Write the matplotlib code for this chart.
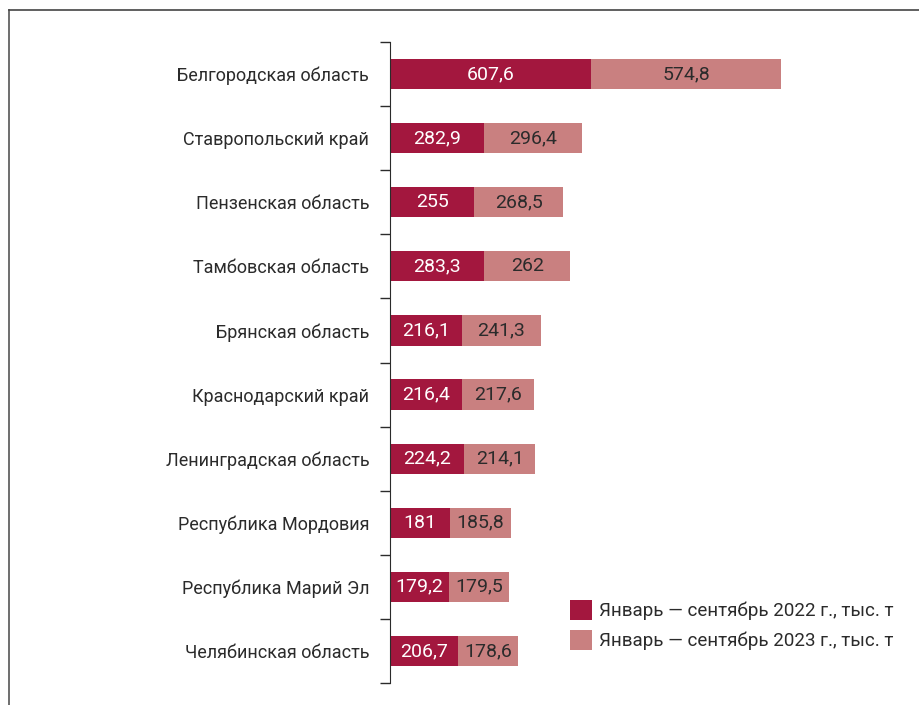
import matplotlib
matplotlib.use("Agg")
import matplotlib.pyplot as plt
from matplotlib.lines import Line2D

regions = [
    "Белгородская область",
    "Ставропольский край",
    "Пензенская область",
    "Тамбовская область",
    "Брянская область",
    "Краснодарский край",
    "Ленинградская область",
    "Республика Мордовия",
    "Республика Марий Эл",
    "Челябинская область",
]
vals_2022 = [607.6, 282.9, 255, 283.3, 216.1, 216.4, 224.2, 181, 179.2, 206.7]
vals_2023 = [574.8, 296.4, 268.5, 262, 241.3, 217.6, 214.1, 185.8, 179.5, 178.6]
series_names = ["Январь — сентябрь 2022 г., тыс. т",
                "Январь — сентябрь 2023 г., тыс. т"]

dark = "#A3173E"
light = "#C98080"
text_col = "#2b2b2b"

plt.rcParams["font.family"] = ["Roboto", "DejaVu Sans"]


def fmt(v):
    s = ("%.1f" % v).rstrip("0").rstrip(".")
    return s.replace(".", ",")


fig = plt.figure(figsize=(9.2, 7.05), dpi=100)
ax = fig.add_axes([390 / 920, 1 - 683 / 705, 510 / 920, (683 - 42) / 705])

y = list(range(len(regions)))
b1 = ax.barh(y, vals_2022, height=0.47, color=dark, label=series_names[0])
b2 = ax.barh(y, vals_2023, left=vals_2022, height=0.47, color=light,
             label=series_names[1])

# value labels centred in each segment
for i in y:
    ax.text(vals_2022[i] / 2, i, fmt(vals_2022[i]), ha="center", va="center",
            color="white", fontsize=14)
    ax.text(vals_2022[i] + vals_2023[i] / 2, i, fmt(vals_2023[i]),
            ha="center", va="center", color=text_col, fontsize=14)

ax.set_xlim(0, 510 / 0.331)
ax.set_ylim(len(regions) - 0.5, -0.5)
ax.set_yticks(y)
ax.set_yticklabels(regions, fontsize=13, color=text_col)
ax.tick_params(axis="y", which="major", length=0, pad=15)
ax.set_yticks([i - 0.5 for i in range(len(regions) + 1)], minor=True)
ax.tick_params(axis="y", which="minor", length=7, width=1, color=text_col)
ax.set_xticks([])
for side in ["top", "right", "bottom"]:
    ax.spines[side].set_visible(False)
ax.spines["left"].set_color(text_col)

fig.legend(handles=[b1, b2], loc="upper left",
           bbox_to_anchor=(570 / 920, 1 - 600 / 705), frameon=False,
           borderpad=0, borderaxespad=0,
           fontsize=13.5, handlelength=1.2, handleheight=1.3,
           handletextpad=0.35, labelspacing=0.5, labelcolor=text_col)

# frame around the chart
fig.add_artist(Line2D([9 / 920, 9 / 920], [0, 1 - 10 / 705],
                      transform=fig.transFigure, color="#555555", lw=1.2))
fig.add_artist(Line2D([9 / 920, 1], [1 - 10 / 705, 1 - 10 / 705],
                      transform=fig.transFigure, color="#444444", lw=1.2))

fig.savefig("out.png", dpi=100)
